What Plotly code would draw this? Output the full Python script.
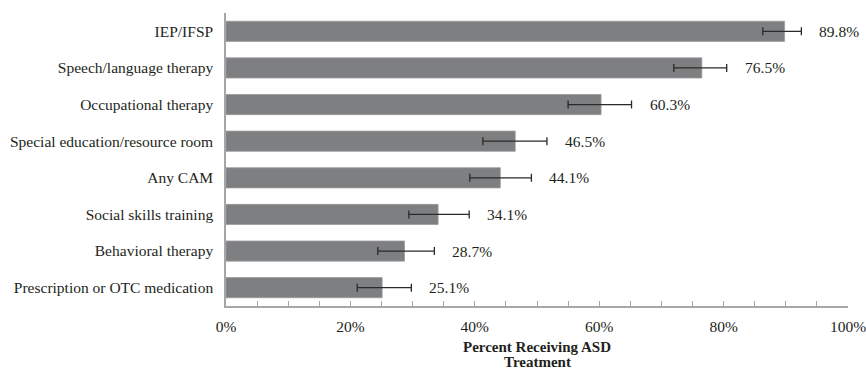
import plotly.graph_objects as go

categories = ["IEP/IFSP", "Speech/language therapy", "Occupational therapy",
              "Special education/resource room", "Any CAM", "Social skills training",
              "Behavioral therapy", "Prescription or OTC medication"]
values = [89.8, 76.5, 60.3, 46.5, 44.1, 34.1, 28.7, 25.1]
err_minus = [3.5, 4.5, 5.3, 5.2, 4.9, 4.7, 4.3, 4.0]
err_plus = [2.7, 4.0, 4.9, 5.1, 5.0, 5.0, 4.8, 4.7]
x_tickvals = [0, 20, 40, 60, 80, 100]
x_ticktext = ["0%", "20%", "40%", "60%", "80%", "100%"]
x_title_lines = ["Percent Receiving ASD", "Treatment"]

FONT = "Liberation Serif"
FS = 15.5
TXT = "#231f20"

W, H = 866, 371
M = dict(l=226, r=18, t=13, b=65)
plot_h = H - M["t"] - M["b"]

fig = go.Figure()
fig.add_trace(go.Bar(
    x=values, y=categories, orientation="h",
    marker=dict(color="#7e7f81", line=dict(color="#9a9b9d", width=0.8)),
    error_x=dict(type="data", symmetric=False, array=err_plus, arrayminus=err_minus,
                 color="#2a2a2a", thickness=1.3, width=4),
    hoverinfo="skip",
))

for c, v, ep in zip(categories, values, err_plus):
    fig.add_annotation(x=v + ep, y=c, text=f"{v:.1f}%", showarrow=False,
                       xanchor="left", xshift=16,
                       font=dict(family=FONT, size=FS, color=TXT))

# axis title (two lines, tight spacing)
for i, line in enumerate(x_title_lines):
    ypix = 347 + 15 * i  # centre pixel of the line
    fig.add_annotation(x=0.5, xref="paper", y=(H - M["b"] - ypix) / plot_h, yref="paper",
                       text=f"<b>{line}</b>", showarrow=False,
                       xanchor="center", yanchor="middle",
                       font=dict(family=FONT, size=15, color=TXT))

fig.update_layout(
    width=W, height=H,
    margin=M,
    paper_bgcolor="white", plot_bgcolor="white",
    bargap=0.45, showlegend=False,
    font=dict(family=FONT, size=FS, color=TXT),
)
fig.update_xaxes(
    range=[0, 100], tickvals=x_tickvals, ticktext=x_ticktext,
    automargin=False, ticklabeloverflow="allow",
    showgrid=False, zeroline=False,
    showline=True, linecolor="#a6a6a6", linewidth=1.5,
    ticks="inside", ticklen=5, tickcolor="#a6a6a6", tickwidth=1,
    minor=dict(dtick=5, ticks="inside", ticklen=5, tickcolor="#a6a6a6", tickwidth=1),
    ticklabelstandoff=6,
    tickfont=dict(family=FONT, size=FS, color=TXT),
)
fig.update_yaxes(
    autorange="reversed", showgrid=False, zeroline=False, automargin=False,
    showline=True, linecolor="#a6a6a6", linewidth=1.5,
    ticks="", ticklabelstandoff=8,
    tickfont=dict(family=FONT, size=FS, color=TXT),
)

fig.write_html("out.html")
